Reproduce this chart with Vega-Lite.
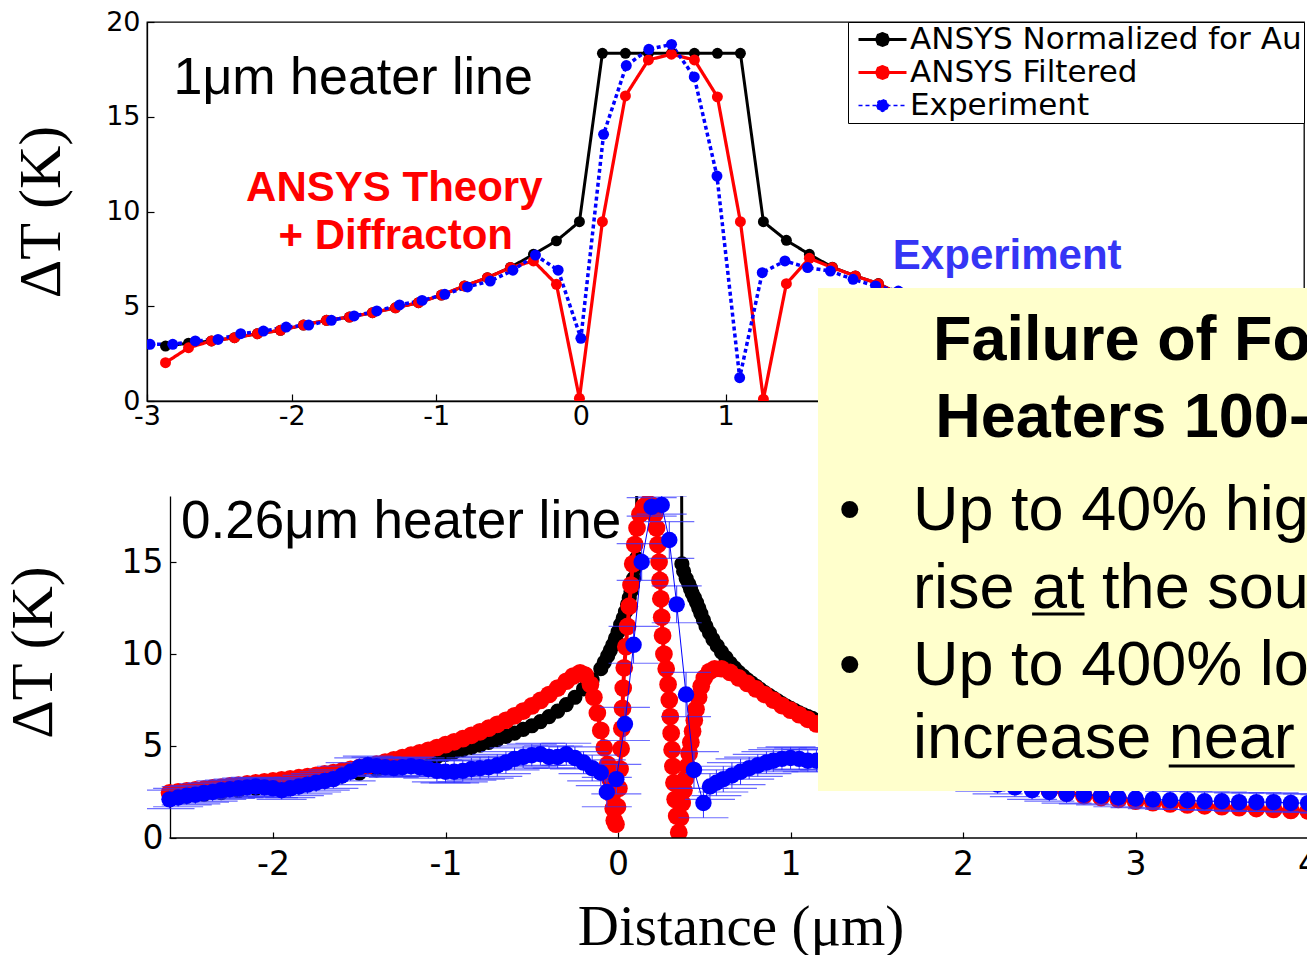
{
  "$schema": "https://vega.github.io/schema/vega-lite/v6.json",
  "background": "white",
  "padding": {"left": 3, "top": 7, "right": 0, "bottom": 0},
  "spacing": 95,
  "bounds": "flush",
  "resolve": {"scale": {"color": "independent"}, "legend": {"color": "independent"}},
  "config": {
    "font": "Liberation Sans",
    "view": {"stroke": "#000000", "strokeWidth": 1.3},
    "axis": {"grid": false, "domainColor": "#000000", "domainWidth": 1.3, "tickColor": "#000000", "tickWidth": 1.2, "labelColor": "#000000", "titleColor": "#000000", "titleFontWeight": "normal", "labelFlush": false, "labelOverlap": false, "labelBound": false}
  },
  "datasets": {
    "top": [
      {"s":"N","x":-2.872,"y":2.9},{"s":"N","x":-2.713,"y":3.05},{"s":"N","x":-2.554,"y":3.17},{"s":"N","x":-2.395,"y":3.34},{"s":"N","x":-2.236,"y":3.55},{"s":"N","x":-2.077,"y":3.73},{"s":"N","x":-1.918,"y":4.01},{"s":"N","x":-1.759,"y":4.26},{"s":"N","x":-1.6,"y":4.43},{"s":"N","x":-1.441,"y":4.66},{"s":"N","x":-1.282,"y":4.92},{"s":"N","x":-1.123,"y":5.19},{"s":"N","x":-0.964,"y":5.59},{"s":"N","x":-0.805,"y":6.07},{"s":"N","x":-0.646,"y":6.51},{"s":"N","x":-0.487,"y":7.05},{"s":"N","x":-0.328,"y":7.74},{"s":"N","x":-0.169,"y":8.45},{"s":"N","x":-0.01,"y":9.46},{"s":"N","x":0.149,"y":18.35},{"s":"N","x":0.308,"y":18.35},{"s":"N","x":0.467,"y":18.35},{"s":"N","x":0.626,"y":18.35},{"s":"N","x":0.785,"y":18.35},{"s":"N","x":0.944,"y":18.35},{"s":"N","x":1.103,"y":18.35},{"s":"N","x":1.262,"y":9.46},{"s":"N","x":1.421,"y":8.48},{"s":"N","x":1.58,"y":7.74},{"s":"N","x":1.739,"y":7.06},{"s":"N","x":1.898,"y":6.6},{"s":"N","x":2.057,"y":6.2},{"s":"N","x":2.216,"y":5.59},{"s":"N","x":2.375,"y":5.19},{"s":"N","x":2.534,"y":4.92},{"s":"N","x":2.693,"y":4.66},{"s":"N","x":2.852,"y":4.43},{"s":"N","x":3.011,"y":4.26},{"s":"N","x":3.17,"y":4.01},{"s":"N","x":3.329,"y":3.73},{"s":"N","x":3.488,"y":3.55},{"s":"N","x":3.647,"y":3.34},{"s":"N","x":3.806,"y":3.17},{"s":"N","x":3.965,"y":3.05},{"s":"N","x":4.124,"y":2.9},
      {"s":"F","x":-2.872,"y":2.02},{"s":"F","x":-2.713,"y":2.81},{"s":"F","x":-2.554,"y":3.17},{"s":"F","x":-2.395,"y":3.34},{"s":"F","x":-2.236,"y":3.55},{"s":"F","x":-2.077,"y":3.73},{"s":"F","x":-1.918,"y":4.01},{"s":"F","x":-1.759,"y":4.26},{"s":"F","x":-1.6,"y":4.43},{"s":"F","x":-1.441,"y":4.66},{"s":"F","x":-1.282,"y":4.92},{"s":"F","x":-1.123,"y":5.19},{"s":"F","x":-0.964,"y":5.59},{"s":"F","x":-0.805,"y":6.07},{"s":"F","x":-0.646,"y":6.51},{"s":"F","x":-0.487,"y":7.04},{"s":"F","x":-0.328,"y":7.39},{"s":"F","x":-0.169,"y":6.16},{"s":"F","x":-0.01,"y":0.14},{"s":"F","x":0.149,"y":9.46},{"s":"F","x":0.308,"y":16.1},{"s":"F","x":0.467,"y":18.0},{"s":"F","x":0.626,"y":18.3},{"s":"F","x":0.785,"y":18.0},{"s":"F","x":0.944,"y":16.05},{"s":"F","x":1.103,"y":9.46},{"s":"F","x":1.262,"y":0.1},{"s":"F","x":1.421,"y":6.19},{"s":"F","x":1.58,"y":7.53},{"s":"F","x":1.739,"y":7.04},{"s":"F","x":1.898,"y":6.6},{"s":"F","x":2.057,"y":6.19},{"s":"F","x":2.216,"y":5.59},{"s":"F","x":2.375,"y":5.19},{"s":"F","x":2.534,"y":4.92},{"s":"F","x":2.693,"y":4.66},{"s":"F","x":2.852,"y":4.43},{"s":"F","x":3.011,"y":4.26},{"s":"F","x":3.17,"y":4.01},{"s":"F","x":3.329,"y":3.73},{"s":"F","x":3.488,"y":3.55},{"s":"F","x":3.647,"y":3.34},{"s":"F","x":3.806,"y":3.17},{"s":"F","x":3.965,"y":2.81},{"s":"F","x":4.124,"y":2.02},
      {"s":"E","x":-2.979,"y":2.99},{"s":"E","x":-2.822,"y":2.99},{"s":"E","x":-2.666,"y":3.17},{"s":"E","x":-2.509,"y":3.25},{"s":"E","x":-2.352,"y":3.55},{"s":"E","x":-2.195,"y":3.69},{"s":"E","x":-2.038,"y":3.9},{"s":"E","x":-1.882,"y":4.01},{"s":"E","x":-1.725,"y":4.26},{"s":"E","x":-1.568,"y":4.49},{"s":"E","x":-1.411,"y":4.75},{"s":"E","x":-1.254,"y":5.07},{"s":"E","x":-1.098,"y":5.31},{"s":"E","x":-0.941,"y":5.63},{"s":"E","x":-0.784,"y":6.02},{"s":"E","x":-0.627,"y":6.33},{"s":"E","x":-0.47,"y":6.9},{"s":"E","x":-0.314,"y":7.7},{"s":"E","x":-0.157,"y":6.9},{"s":"E","x":0.0,"y":3.31},{"s":"E","x":0.157,"y":14.07},{"s":"E","x":0.314,"y":17.7},{"s":"E","x":0.47,"y":18.56},{"s":"E","x":0.627,"y":18.82},{"s":"E","x":0.784,"y":17.1},{"s":"E","x":0.941,"y":11.87},{"s":"E","x":1.098,"y":1.23},{"s":"E","x":1.254,"y":6.77},{"s":"E","x":1.411,"y":7.39},{"s":"E","x":1.568,"y":7.04},{"s":"E","x":1.725,"y":6.86},{"s":"E","x":1.882,"y":6.42},{"s":"E","x":2.038,"y":6.07},{"s":"E","x":2.195,"y":5.8},{"s":"E","x":2.352,"y":5.5},{"s":"E","x":2.509,"y":5.2},{"s":"E","x":2.666,"y":4.9},{"s":"E","x":2.822,"y":4.6},{"s":"E","x":2.979,"y":4.35},{"s":"E","x":3.136,"y":4.1},{"s":"E","x":3.293,"y":3.9},{"s":"E","x":3.45,"y":3.7},{"s":"E","x":3.606,"y":3.5},{"s":"E","x":3.763,"y":3.3},{"s":"E","x":3.92,"y":3.15},{"s":"E","x":4.077,"y":3.0}
    ],
    "bk": [
      {"x":-2.6,"y":2.18},{"x":-2.5,"y":2.27},{"x":-2.4,"y":2.37},{"x":-2.3,"y":2.47},{"x":-2.2,"y":2.58},{"x":-2.1,"y":2.7},{"x":-2.0,"y":2.82},{"x":-1.9,"y":2.95},{"x":-1.8,"y":3.08},{"x":-1.7,"y":3.22},{"x":-1.6,"y":3.37},{"x":-1.5,"y":3.53},{"x":-1.4,"y":3.7},{"x":-1.3,"y":3.87},{"x":-1.2,"y":4.07},{"x":-1.1,"y":4.3},{"x":-1.05,"y":4.42},{"x":-1.0,"y":4.55},{"x":-0.95,"y":4.68},{"x":-0.9,"y":4.8},{"x":-0.85,"y":4.92},{"x":-0.8,"y":5.05},{"x":-0.75,"y":5.2},{"x":-0.7,"y":5.35},{"x":-0.65,"y":5.52},{"x":-0.6,"y":5.7},{"x":-0.55,"y":5.9},{"x":-0.5,"y":6.1},{"x":-0.45,"y":6.33},{"x":-0.4,"y":6.6},{"x":-0.35,"y":6.9},{"x":-0.3,"y":7.25},{"x":-0.25,"y":7.65},{"x":-0.2,"y":8.1},{"x":-0.15,"y":8.6},{"x":-0.1,"y":9.2},{"x":-0.08,"y":9.55},{"x":-0.06,"y":9.9},{"x":-0.045,"y":10.2},{"x":-0.03,"y":10.5},{"x":-0.015,"y":10.85},{"x":0.0,"y":11.2},{"x":0.015,"y":11.6},{"x":0.03,"y":11.95},{"x":0.043,"y":12.3},{"x":0.055,"y":12.7},{"x":0.065,"y":13.05},{"x":0.075,"y":13.4},{"x":0.083,"y":13.75},{"x":0.09,"y":14.1},{"x":0.1,"y":14.7},{"x":0.107,"y":15.2},{"x":0.11,"y":24},{"x":0.24,"y":30},{"x":0.367,"y":24},{"x":0.37,"y":14.9},{"x":0.38,"y":14.5},{"x":0.395,"y":14.1},{"x":0.41,"y":13.8},{"x":0.42,"y":13.55},{"x":0.43,"y":13.3},{"x":0.443,"y":13.05},{"x":0.455,"y":12.8},{"x":0.468,"y":12.5},{"x":0.48,"y":12.2},{"x":0.495,"y":11.85},{"x":0.51,"y":11.5},{"x":0.53,"y":11.15},{"x":0.55,"y":10.8},{"x":0.575,"y":10.45},{"x":0.6,"y":10.1},{"x":0.625,"y":9.8},{"x":0.65,"y":9.5},{"x":0.675,"y":9.25},{"x":0.7,"y":9.0},{"x":0.725,"y":8.8},{"x":0.75,"y":8.6},{"x":0.775,"y":8.42},{"x":0.8,"y":8.25},{"x":0.825,"y":8.07},{"x":0.85,"y":7.9},{"x":0.875,"y":7.75},{"x":0.9,"y":7.6},{"x":0.925,"y":7.45},{"x":0.95,"y":7.3},{"x":0.975,"y":7.17},{"x":1.0,"y":7.05},{"x":1.025,"y":6.92},{"x":1.05,"y":6.8},{"x":1.075,"y":6.7},{"x":1.1,"y":6.6},{"x":1.125,"y":6.5},{"x":1.15,"y":6.4},{"x":1.175,"y":6.3},{"x":1.2,"y":6.2},{"x":1.3,"y":5.85},{"x":1.4,"y":5.5},{"x":1.5,"y":5.15},{"x":1.6,"y":4.85},{"x":1.7,"y":4.55},{"x":1.8,"y":4.25},{"x":1.9,"y":4.0},{"x":2.0,"y":3.75},{"x":2.1,"y":3.5},{"x":2.2,"y":3.25},{"x":2.3,"y":3.05},{"x":2.4,"y":2.85},{"x":2.5,"y":2.65},{"x":2.6,"y":2.5},{"x":2.7,"y":2.35},{"x":2.8,"y":2.2},{"x":2.9,"y":2.1},{"x":3.0,"y":2.0},{"x":3.2,"y":1.85},{"x":3.4,"y":1.72},{"x":3.6,"y":1.62},{"x":3.8,"y":1.54},{"x":4.0,"y":1.47},{"x":4.2,"y":1.4}
    ],
    "rd": [
      {"x":-2.6,"y":2.46},{"x":-2.55,"y":2.51},{"x":-2.5,"y":2.56},{"x":-2.45,"y":2.61},{"x":-2.4,"y":2.66},{"x":-2.35,"y":2.72},{"x":-2.3,"y":2.77},{"x":-2.25,"y":2.83},{"x":-2.2,"y":2.88},{"x":-2.15,"y":2.94},{"x":-2.1,"y":3.0},{"x":-2.05,"y":3.05},{"x":-2.0,"y":3.1},{"x":-1.95,"y":3.16},{"x":-1.9,"y":3.22},{"x":-1.85,"y":3.28},{"x":-1.8,"y":3.34},{"x":-1.75,"y":3.41},{"x":-1.7,"y":3.48},{"x":-1.65,"y":3.56},{"x":-1.6,"y":3.64},{"x":-1.55,"y":3.73},{"x":-1.5,"y":3.82},{"x":-1.45,"y":3.92},{"x":-1.4,"y":4.02},{"x":-1.35,"y":4.13},{"x":-1.3,"y":4.25},{"x":-1.25,"y":4.37},{"x":-1.2,"y":4.5},{"x":-1.15,"y":4.63},{"x":-1.1,"y":4.77},{"x":-1.05,"y":4.92},{"x":-1.0,"y":5.07},{"x":-0.95,"y":5.23},{"x":-0.9,"y":5.4},{"x":-0.85,"y":5.58},{"x":-0.8,"y":5.77},{"x":-0.75,"y":5.97},{"x":-0.7,"y":6.18},{"x":-0.65,"y":6.4},{"x":-0.6,"y":6.64},{"x":-0.55,"y":6.9},{"x":-0.5,"y":7.18},{"x":-0.45,"y":7.48},{"x":-0.4,"y":7.8},{"x":-0.35,"y":8.15},{"x":-0.3,"y":8.52},{"x":-0.26,"y":8.8},{"x":-0.22,"y":8.98},{"x":-0.19,"y":8.85},{"x":-0.16,"y":8.35},{"x":-0.14,"y":7.65},{"x":-0.12,"y":6.8},{"x":-0.1,"y":5.85},{"x":-0.08,"y":4.9},{"x":-0.06,"y":4.0},{"x":-0.045,"y":3.15},{"x":-0.035,"y":2.35},{"x":-0.028,"y":1.6},{"x":-0.022,"y":0.95},{"x":-0.012,"y":0.75},{"x":-0.003,"y":1.7},{"x":0.005,"y":2.7},{"x":0.012,"y":3.75},{"x":0.018,"y":4.85},{"x":0.022,"y":5.95},{"x":0.026,"y":7.05},{"x":0.03,"y":8.15},{"x":0.036,"y":9.25},{"x":0.045,"y":10.4},{"x":0.055,"y":11.5},{"x":0.065,"y":12.6},{"x":0.075,"y":13.75},{"x":0.085,"y":14.9},{"x":0.097,"y":15.95},{"x":0.11,"y":16.85},{"x":0.127,"y":17.6},{"x":0.148,"y":18.0},{"x":0.172,"y":18.2},{"x":0.195,"y":18.1},{"x":0.212,"y":17.6},{"x":0.223,"y":16.85},{"x":0.231,"y":15.95},{"x":0.238,"y":15.0},{"x":0.243,"y":14.0},{"x":0.248,"y":13.0},{"x":0.253,"y":12.0},{"x":0.258,"y":11.0},{"x":0.266,"y":10.0},{"x":0.279,"y":9.2},{"x":0.29,"y":8.35},{"x":0.297,"y":7.5},{"x":0.303,"y":6.6},{"x":0.308,"y":5.7},{"x":0.313,"y":4.8},{"x":0.318,"y":3.9},{"x":0.324,"y":3.0},{"x":0.331,"y":2.1},{"x":0.34,"y":1.2},{"x":0.352,"y":0.3},{"x":0.362,"y":1.1},{"x":0.372,"y":1.9},{"x":0.382,"y":2.6},{"x":0.392,"y":3.25},{"x":0.402,"y":3.9},{"x":0.412,"y":4.6},{"x":0.422,"y":5.2},{"x":0.432,"y":5.8},{"x":0.442,"y":6.4},{"x":0.452,"y":7.0},{"x":0.467,"y":7.65},{"x":0.482,"y":8.25},{"x":0.5,"y":8.7},{"x":0.53,"y":9.05},{"x":0.56,"y":9.2},{"x":0.6,"y":9.2},{"x":0.65,"y":9.0},{"x":0.7,"y":8.7},{"x":0.75,"y":8.4},{"x":0.8,"y":8.1},{"x":0.85,"y":7.8},{"x":0.9,"y":7.5},{"x":0.95,"y":7.2},{"x":1.0,"y":6.95},{"x":1.05,"y":6.7},{"x":1.1,"y":6.45},{"x":1.15,"y":6.2},{"x":1.2,"y":6.0},{"x":1.3,"y":5.6},{"x":1.4,"y":5.25},{"x":1.5,"y":4.9},{"x":1.6,"y":4.6},{"x":1.7,"y":4.3},{"x":1.8,"y":4.05},{"x":1.9,"y":3.8},{"x":2.0,"y":3.55},{"x":2.1,"y":3.35},{"x":2.2,"y":3.15},{"x":2.3,"y":2.95},{"x":2.4,"y":2.75},{"x":2.5,"y":2.6},{"x":2.6,"y":2.45},{"x":2.7,"y":2.3},{"x":2.8,"y":2.2},{"x":2.9,"y":2.1},{"x":3.0,"y":2.0},{"x":3.1,"y":1.92},{"x":3.2,"y":1.85},{"x":3.3,"y":1.8},{"x":3.4,"y":1.75},{"x":3.5,"y":1.7},{"x":3.6,"y":1.65},{"x":3.7,"y":1.6},{"x":3.8,"y":1.55},{"x":3.9,"y":1.5},{"x":4.0,"y":1.47},{"x":4.1,"y":1.44},{"x":4.2,"y":1.4}
    ],
    "bl": [
      {"x":-2.6,"y":2.1,"e":0.5},{"x":-2.55,"y":2.2,"e":0.5},{"x":-2.5,"y":2.3,"e":0.5},{"x":-2.45,"y":2.35,"e":0.5},{"x":-2.4,"y":2.45,"e":0.5},{"x":-2.35,"y":2.5,"e":0.5},{"x":-2.3,"y":2.6,"e":0.5},{"x":-2.25,"y":2.65,"e":0.5},{"x":-2.2,"y":2.7,"e":0.5},{"x":-2.15,"y":2.75,"e":0.5},{"x":-2.1,"y":2.8,"e":0.5},{"x":-2.05,"y":2.75,"e":0.5},{"x":-2.0,"y":2.7,"e":0.5},{"x":-1.95,"y":2.6,"e":0.5},{"x":-1.9,"y":2.7,"e":0.5},{"x":-1.85,"y":2.8,"e":0.5},{"x":-1.8,"y":2.9,"e":0.5},{"x":-1.75,"y":3.0,"e":0.5},{"x":-1.7,"y":3.1,"e":0.5},{"x":-1.65,"y":3.2,"e":0.5},{"x":-1.6,"y":3.4,"e":0.5},{"x":-1.55,"y":3.6,"e":0.5},{"x":-1.5,"y":3.85,"e":0.5},{"x":-1.45,"y":3.95,"e":0.5},{"x":-1.4,"y":3.9,"e":0.5},{"x":-1.35,"y":3.85,"e":0.5},{"x":-1.3,"y":3.8,"e":0.5},{"x":-1.25,"y":3.85,"e":0.5},{"x":-1.2,"y":3.9,"e":0.5},{"x":-1.15,"y":3.85,"e":0.5},{"x":-1.1,"y":3.75,"e":0.5},{"x":-1.05,"y":3.65,"e":0.6},{"x":-1.0,"y":3.6,"e":0.6},{"x":-0.95,"y":3.6,"e":0.6},{"x":-0.9,"y":3.65,"e":0.6},{"x":-0.85,"y":3.75,"e":0.6},{"x":-0.8,"y":3.8,"e":0.6},{"x":-0.75,"y":3.85,"e":0.6},{"x":-0.7,"y":3.95,"e":0.6},{"x":-0.65,"y":4.1,"e":0.6},{"x":-0.6,"y":4.3,"e":0.6},{"x":-0.55,"y":4.4,"e":0.6},{"x":-0.5,"y":4.5,"e":0.6},{"x":-0.45,"y":4.55,"e":0.6},{"x":-0.4,"y":4.4,"e":0.6},{"x":-0.35,"y":4.4,"e":0.6},{"x":-0.3,"y":4.55,"e":0.6},{"x":-0.25,"y":4.35,"e":0.6},{"x":-0.2,"y":4.1,"e":0.6},{"x":-0.15,"y":3.8,"e":0.7},{"x":-0.1,"y":3.55,"e":0.7},{"x":-0.065,"y":2.5,"e":0.8},{"x":-0.01,"y":3.2,"e":0.8},{"x":0.04,"y":6.2,"e":0.9},{"x":0.09,"y":10.5,"e":1.0},{"x":0.137,"y":15.0,"e":1.0},{"x":0.195,"y":18.0,"e":0.5},{"x":0.253,"y":18.1,"e":0.5},{"x":0.297,"y":16.2,"e":1.0},{"x":0.34,"y":12.7,"e":1.0},{"x":0.394,"y":7.8,"e":1.2},{"x":0.44,"y":3.7,"e":1.0},{"x":0.495,"y":1.9,"e":0.8},{"x":0.533,"y":2.8,"e":0.7},{"x":0.57,"y":3.0,"e":0.7},{"x":0.61,"y":3.2,"e":0.7},{"x":0.66,"y":3.4,"e":0.7},{"x":0.71,"y":3.6,"e":0.7},{"x":0.76,"y":3.8,"e":0.6},{"x":0.81,"y":3.95,"e":0.6},{"x":0.86,"y":4.1,"e":0.6},{"x":0.9,"y":4.2,"e":0.6},{"x":0.95,"y":4.3,"e":0.6},{"x":1.0,"y":4.35,"e":0.6},{"x":1.05,"y":4.3,"e":0.6},{"x":1.1,"y":4.2,"e":0.6},{"x":1.15,"y":4.2,"e":0.6},{"x":1.2,"y":4.3,"e":0.6},{"x":1.3,"y":4.35,"e":0.5},{"x":1.4,"y":4.3,"e":0.5},{"x":1.5,"y":4.15,"e":0.5},{"x":1.6,"y":4.0,"e":0.5},{"x":1.7,"y":3.8,"e":0.5},{"x":1.8,"y":3.6,"e":0.5},{"x":1.9,"y":3.4,"e":0.5},{"x":2.0,"y":3.2,"e":0.5},{"x":2.1,"y":3.05,"e":0.5},{"x":2.2,"y":2.9,"e":0.5},{"x":2.3,"y":2.75,"e":0.5},{"x":2.4,"y":2.6,"e":0.5},{"x":2.5,"y":2.5,"e":0.5},{"x":2.6,"y":2.4,"e":0.5},{"x":2.7,"y":2.35,"e":0.5},{"x":2.8,"y":2.3,"e":0.5},{"x":2.9,"y":2.2,"e":0.5},{"x":3.0,"y":2.15,"e":0.5},{"x":3.1,"y":2.1,"e":0.5},{"x":3.2,"y":2.05,"e":0.5},{"x":3.3,"y":2.05,"e":0.5},{"x":3.4,"y":2.0,"e":0.5},{"x":3.5,"y":2.0,"e":0.5},{"x":3.6,"y":1.95,"e":0.5},{"x":3.7,"y":1.95,"e":0.5},{"x":3.8,"y":1.95,"e":0.5},{"x":3.9,"y":1.9,"e":0.5},{"x":4.0,"y":1.9,"e":0.5},{"x":4.1,"y":1.85,"e":0.5},{"x":4.2,"y":1.85,"e":0.5}
    ]
  },
  "vconcat": [
    {
      "width": 1157,
      "height": 379,
      "encoding": {
        "x": {"field": "x", "type": "quantitative", "scale": {"domain": [-3, 5], "nice": false, "zero": false},
              "axis": {"values": [-3,-2,-1,0,1,2,3,4,5], "labelExpr": "'' + datum.value", "labelFont": "DejaVu Sans", "labelFontSize": 27, "tickSize": -7, "labelPadding": 9, "title": null}},
        "y": {"field": "y", "type": "quantitative", "scale": {"domain": [0, 20], "nice": false, "zero": false},
              "axis": {"values": [0,5,10,15,20], "labelFont": "DejaVu Sans", "labelFontSize": 27, "tickSize": -7, "labelPadding": 14, "title": "ΔT (K)", "titleFont": "Liberation Serif", "titleFontSize": 60, "titlePadding": 33}}
      },
      "layer": [
        {
          "data": {"name": "top"},
          "mark": {"type": "line", "clip": true},
          "encoding": {
            "color": {"field": "s", "type": "nominal", "scale": {"domain": ["N","F","E"], "range": ["#000000","#ff0000","#0000ff"]},
              "legend": {"orient": "top-right", "offset": 0, "title": null, "strokeColor": "#000000", "fillColor": "#ffffff", "padding": 2,
                "labelFont": "DejaVu Sans", "labelFontSize": 31, "labelColor": "#000000", "labelLimit": 800, "rowPadding": 1, "labelOffset": 12, "symbolOffset": 17,
                "symbolType": "M-1,0L1,0M0.25,0L0.177,0.177L0,0.25L-0.177,0.177L-0.25,0L-0.177,-0.177L0,-0.25L0.177,-0.177Z",
                "symbolSize": 2304, "symbolStrokeWidth": 3,
                "labelExpr": "datum.value == 'N' ? 'ANSYS Normalized for Au' : datum.value == 'F' ? 'ANSYS Filtered' : 'Experiment'",
                "encode": {"symbols": {"update": {
                  "fill": {"signal": "datum.value == 'N' ? '#000000' : datum.value == 'F' ? '#ff0000' : '#0000ff'"},
                  "stroke": {"signal": "datum.value == 'N' ? '#000000' : datum.value == 'F' ? '#ff0000' : '#0000ff'"},
                  "strokeDash": {"signal": "datum.value == 'E' ? [4,3] : [1,0]"},
                  "strokeWidth": {"signal": "datum.value == 'E' ? 1.3 : 3"},
                  "opacity": {"value": 1}, "fillOpacity": {"value": 1}, "strokeOpacity": {"value": 1}}}}}},
            "strokeDash": {"field": "s", "type": "nominal", "scale": {"domain": ["N","F","E"], "range": [[1,0],[1,0],[4,3]]}, "legend": null},
            "strokeWidth": {"field": "s", "type": "ordinal", "scale": {"domain": ["N","F","E"], "range": [3,3.5,1.3]}, "legend": null}
          }
        },
        {
          "data": {"name": "top"},
          "mark": {"type": "circle", "size": 120, "opacity": 1, "clip": true},
          "encoding": {
            "color": {"field": "s", "type": "nominal", "scale": {"domain": ["N","F","E"], "range": ["#000000","#ff0000","#0000ff"]}}
          }
        },
        {
          "data": {"values": [{"t": "1μm heater line", "x": -2.817, "y": 16.2}]},
          "mark": {"type": "text", "align": "left", "baseline": "alphabetic", "font": "Liberation Sans", "fontSize": 52, "color": "#000000"},
          "encoding": {"text": {"field": "t"}}
        },
        {
          "data": {"values": [{"t": "ANSYS Theory", "x": -1.29, "y": 10.55}, {"t": "+ Diffracton", "x": -1.28, "y": 8.02}]},
          "mark": {"type": "text", "align": "center", "baseline": "alphabetic", "font": "Liberation Sans", "fontWeight": "bold", "fontSize": 42, "color": "#ff0000"},
          "encoding": {"text": {"field": "t"}}
        },
        {
          "data": {"values": [{"t": "Experiment", "x": 2.948, "y": 6.97}]},
          "mark": {"type": "text", "align": "center", "baseline": "alphabetic", "font": "Liberation Sans", "fontWeight": "bold", "fontSize": 42, "color": "#3535f5"},
          "encoding": {"text": {"field": "t"}}
        }
      ]
    },
    {
      "width": 1187,
      "height": 342,
      "view": {"stroke": null},
      "encoding": {
        "x": {"field": "x", "type": "quantitative", "scale": {"domain": [-2.7304, 4.15], "nice": false, "zero": false},
              "axis": {"values": [-2,-1,0,1,2,3,4], "labelExpr": "'' + datum.value", "labelFont": "DejaVu Sans", "labelFontSize": 33, "tickSize": -6, "labelPadding": 16, "domain": false, "title": "Distance (μm)", "titleFont": "Liberation Serif", "titleFontSize": 57, "titlePadding": 18}},
        "y": {"field": "y", "type": "quantitative", "scale": {"domain": [0, 18.59], "nice": false, "zero": false},
              "axis": {"values": [0,5,10,15], "offset": -23, "labelFont": "DejaVu Sans", "labelFontSize": 33, "tickSize": -6, "labelPadding": 13, "title": "ΔT (K)", "titleFont": "Liberation Serif", "titleFontSize": 60, "titlePadding": 57, "titleY": 156}}
      },
      "layer": [
        {"data": {"name": "bk"}, "mark": {"type": "line", "color": "#000000", "strokeWidth": 3, "clip": true}},
        {"data": {"name": "bk"}, "mark": {"type": "circle", "color": "#000000", "size": 230, "opacity": 1, "clip": true}},
        {"data": {"name": "rd"}, "mark": {"type": "line", "color": "#ff0000", "strokeWidth": 4, "clip": true}},
        {"data": {"name": "rd"}, "mark": {"type": "circle", "color": "#ff0000", "size": 314, "opacity": 1, "clip": true}},
        {"data": {"name": "bl"}, "mark": {"type": "errorbar", "ticks": {"size": 50, "thickness": 1.2, "color": "#3030ff"}, "rule": {"strokeWidth": 1, "color": "#3030ff"}, "clip": true},
         "encoding": {"yError": {"field": "e"}}},
        {"data": {"name": "bl"}, "mark": {"type": "line", "color": "#0000ff", "strokeWidth": 1, "clip": true}},
        {"data": {"name": "bl"}, "mark": {"type": "circle", "color": "#0000ff", "size": 270, "opacity": 1, "clip": true}},
        {"data": {"values": [{"x": -2.6, "x2": 4.15, "y": 0}]}, "mark": {"type": "rule", "color": "#000000", "strokeWidth": 1.3},
         "encoding": {"x2": {"field": "x2"}}},
        {"data": {"values": [{"t": "0.26μm heater line", "x": -2.533, "y": 16.3}]},
         "mark": {"type": "text", "align": "left", "baseline": "alphabetic", "font": "Liberation Sans", "fontSize": 53, "color": "#000000"},
         "encoding": {"text": {"field": "t"}}},
        {"data": {"values": [{"x": 1.159, "x2": 4.15, "y": 2.55, "y2": 29.9}]}, "mark": {"type": "rect", "color": "#ffffcc", "opacity": 1, "clip": false},
         "encoding": {"x2": {"field": "x2"}, "y2": {"field": "y2"}}},
        {"data": {"values": [{"t": "Failure of Fourier’s Law for", "x": 1.826, "y": 25.98}, {"t": "Heaters 100-500nm", "x": 1.838, "y": 21.8}]},
         "mark": {"type": "text", "align": "left", "baseline": "alphabetic", "font": "Liberation Sans", "fontWeight": "bold", "fontSize": 63, "color": "#000000", "clip": false},
         "encoding": {"text": {"field": "t"}}},
        {"data": {"values": [{"t": "•", "x": 1.28, "y": 16.74}, {"t": "•", "x": 1.28, "y": 8.32}, {"t": "Up to 40% higher temperature", "x": 1.71, "y": 16.74}, {"t": "rise at the source", "x": 1.71, "y": 12.5}, {"t": "Up to 400% lower temperature", "x": 1.71, "y": 8.32}, {"t": "increase near the source", "x": 1.71, "y": 4.35}]},
         "mark": {"type": "text", "align": "left", "baseline": "alphabetic", "font": "Liberation Sans", "fontSize": 63, "color": "#000000", "clip": false},
         "encoding": {"text": {"field": "t"}}},
        {"data": {"values": [{"x": 2.40, "x2": 2.704, "y": 12.17}, {"x": 3.192, "x2": 3.922, "y": 3.91}]},
         "mark": {"type": "rule", "color": "#000000", "strokeWidth": 3, "clip": false},
         "encoding": {"x2": {"field": "x2"}}}
      ]
    }
  ]
}
